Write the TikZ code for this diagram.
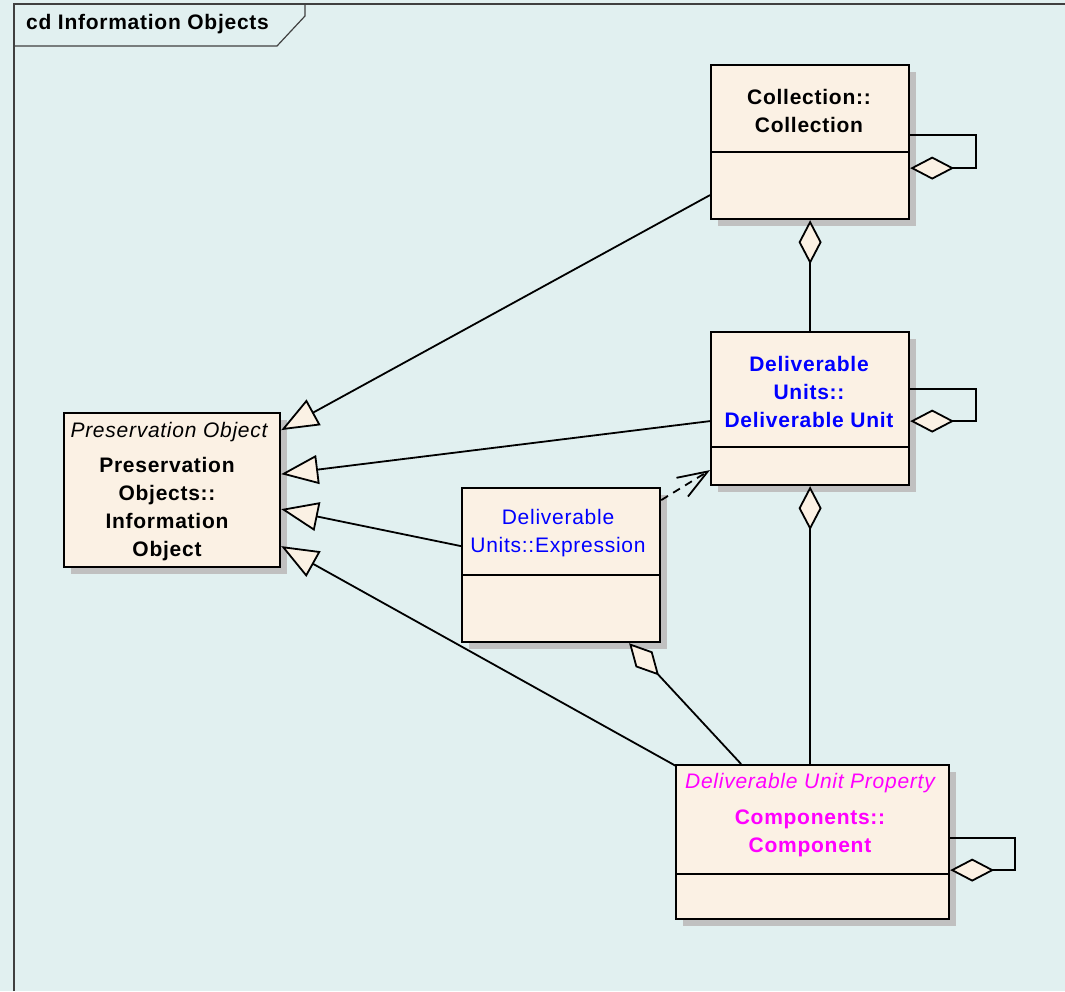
\documentclass[tikz,border=0pt]{standalone}
\usepackage{fontspec}
\setmainfont{Liberation Sans}[LetterSpace=3.5]
\usetikzlibrary{arrows.meta,shadows,calc}
\definecolor{canvas}{HTML}{E1F0F0}
\definecolor{boxfill}{HTML}{FBF1E4}
\definecolor{shadowgray}{HTML}{C0C0C0}
\definecolor{frameline}{HTML}{404040}
\definecolor{pkgblue}{HTML}{0000FF}
\definecolor{pkgmagenta}{HTML}{FF00FF}
\tikzset{
  classbox/.style={draw=black, line width=2.2pt, fill=boxfill, inner sep=0pt,
    anchor=north west,
    general shadow={fill=shadowgray, shadow xshift=7pt, shadow yshift=-7pt}},
  divider/.style={line width=2pt},
  label/.style={inner sep=0pt, align=center, font=\fontsize{21}{28}\selectfont},
  conn/.style={line width=1.8pt},
  gen/.style={conn, -{Triangle[length=37pt, width=29pt, fill=boxfill, line width=1.8pt]}},
  agg/.style={conn, {Diamond[length=44pt, width=23pt, fill=boxfill, line width=1.8pt]}-},
  dep/.style={conn, dash pattern=on 8pt off 6pt, -{Straight Barb[length=30pt, width=22pt, line width=1.8pt]}}
}
\begin{document}
\begin{tikzpicture}[x=1pt, y=-1pt]
  % canvas and diagram frame
  \fill[canvas] (0,0) rectangle (1065,991);
  \useasboundingbox (0,0) rectangle (1065,991);
  \draw[frameline, line width=1.2pt] (14,991) -- (14,4) -- (1065,4);
  \draw[frameline, line width=1.2pt] (14,46) -- (277,46) -- (305,16) -- (305,4);
  \node[label, font=\fontsize{21}{28}\selectfont\bfseries, anchor=west] (title) at (26,24) {cd Information Objects};

  % class boxes
  \node[classbox, minimum width=198pt, minimum height=154pt] (coll) at (710,64) {};
  \node[classbox, minimum width=198pt, minimum height=153pt] (du) at (710,331) {};
  \node[classbox, minimum width=216pt, minimum height=154pt] (pres) at (63,412) {};
  \node[classbox, minimum width=198pt, minimum height=154pt] (expr) at (461,487) {};
  \node[classbox, minimum width=273pt, minimum height=154pt] (comp) at (675,764) {};

  % attribute compartments
  \draw[divider] (coll.west |- 0,152) -- (coll.east |- 0,152);
  \draw[divider] (du.west |- 0,447) -- (du.east |- 0,447);
  \draw[divider] (expr.west |- 0,575) -- (expr.east |- 0,575);
  \draw[divider] (comp.west |- 0,874) -- (comp.east |- 0,874);

  % class names
  \node[label, font=\fontsize{21}{28}\selectfont\bfseries] (collname) at (809,111) {Collection::\\Collection};
  \node[label, font=\fontsize{21}{28}\selectfont\bfseries, text=pkgblue] (duname) at (809,392) {Deliverable\\Units::\\Deliverable Unit};
  \node[label, font=\fontsize{21}{28}\selectfont\itshape] (presstereo) at (169,432) {Preservation Object};
  \node[label, font=\fontsize{21}{28}\selectfont\bfseries] (presname) at (167,509) {Preservation\\Objects::\\Information\\Object};
  \node[label, text=pkgblue] (exprname) at (558,533) {Deliverable\\Units::Expression};
  \node[label, font=\fontsize{21}{28}\selectfont\itshape, text=pkgmagenta] (compstereo) at (810,783) {Deliverable Unit Property};
  \node[label, font=\fontsize{21}{28}\selectfont\bfseries, text=pkgmagenta] (compname) at (810,833) {Components::\\Component};

  % generalisations to Information Object
  \draw[gen] ([yshift=-53pt]coll.west) -- ([yshift=60pt]pres.east);
  \draw[gen] ([yshift=-12.5pt]du.west) -- ([yshift=16pt]pres.east);
  \draw[gen] ([yshift=19pt]expr.west) -- ([yshift=-19pt]pres.east);
  \draw[gen] ([xshift=1pt,yshift=-2pt]comp.north west) -- ([yshift=-56pt]pres.east);

  % aggregations
  \draw[agg] (coll.south) -- (du.north);
  \draw[agg] (du.south) -- (du.south |- comp.north);
  \draw[agg] ([xshift=68pt]expr.south) -- ([xshift=-71.5pt]comp.north);

  % dependency
  \draw[dep] ([yshift=65pt]expr.east) -- ([yshift=-61.5pt]du.west);

  % self aggregations
  \draw[agg] ([yshift=-26pt]coll.east) -- ++(66pt,0) |- ([yshift=7pt]coll.east);
  \draw[agg] ([yshift=-12.5pt]du.east) -- ++(66pt,0) |- ([yshift=19.5pt]du.east);
  \draw[agg] ([yshift=-28pt]comp.east) -- ++(65pt,0) |- ([yshift=4pt]comp.east);
\end{tikzpicture}
\end{document}
